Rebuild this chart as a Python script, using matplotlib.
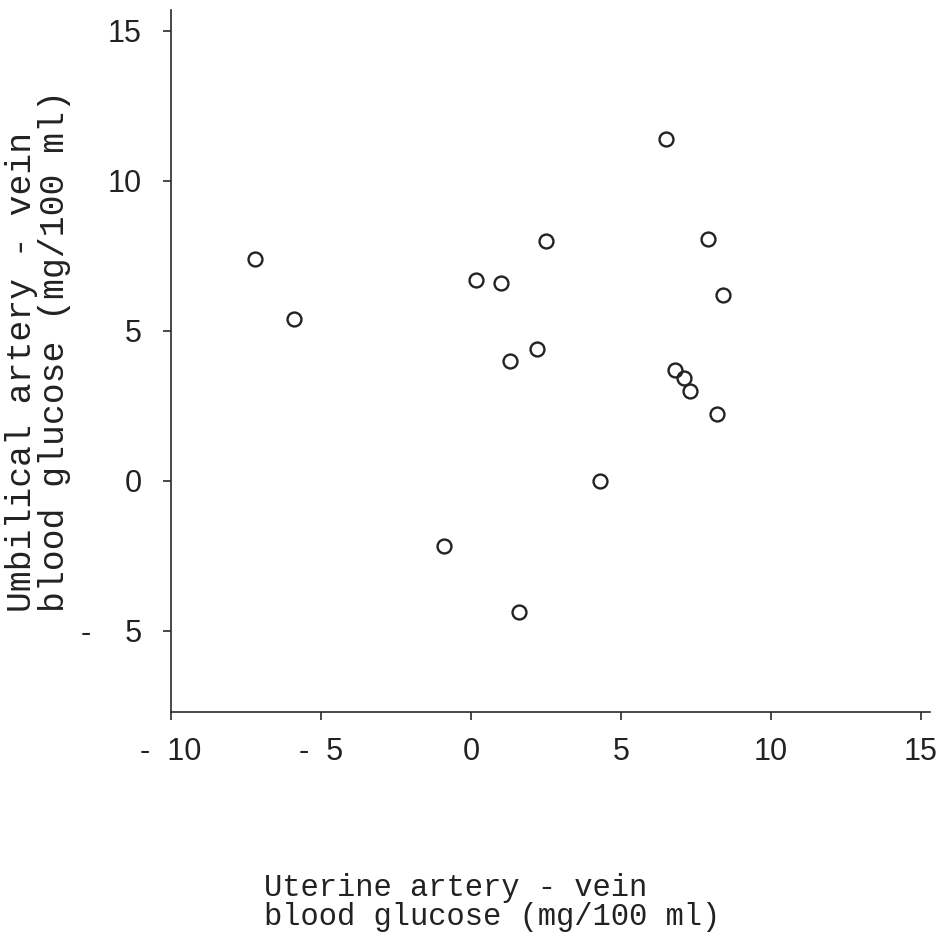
#%%
import matplotlib.pyplot as plt

# uterine (x) vs umbilical (y) artery - vein glucose difference, mg/100 ml
uterine_av=[-7.2,-5.9,0.15,1.0,2.5,2.2,1.3,6.5,7.9,8.4,6.8,7.1,7.3,8.2,4.3,-0.9,1.6]
umbilical_av=[7.4,5.4,6.7,6.6,8.0,4.4,4.0,11.4,8.05,6.2,3.7,3.45,3.0,2.25,0.0,-2.15,-4.35]

xticks=[-10,-5,0,5,10,15]
xticklabels=['-  10','-  5','0','5','10','15']
yticks=[-5,0,5,10,15]
yticklabels=['-    5','0','5','10','15']

#%%
mono='Liberation Mono'
num='Liberation Sans'
ink='#222222'

fig=plt.figure(figsize=(9.49,9.41),dpi=100)
ax=fig.add_axes([171/949,1-712/941,(930-171)/949,(712-10)/941])

ax.plot(uterine_av,umbilical_av,'o',ms=10,mfc='none',mec=ink,mew=1.7)

ax.set_xlim(-10,15.3)
ax.set_ylim(-7.7,15.7)
for s in ['top','right']:
    ax.spines[s].set_visible(False)
for s in ['left','bottom']:
    ax.spines[s].set_linewidth(1.2)
    ax.spines[s].set_color('#2a2a2a')

ax.set_xticks(xticks)
ax.set_xticklabels(xticklabels,fontfamily=num,fontsize=22,color=ink)
ax.set_yticks(yticks)
ax.set_yticklabels(yticklabels,fontfamily=num,fontsize=22,color=ink)
ax.tick_params(axis='both',direction='out',length=6,width=1.2,color='#2a2a2a')
ax.tick_params(axis='x',pad=12)
ax.tick_params(axis='y',pad=15)

# typed axis titles, two lines each
fig.text(22/949,1-612/941,'Umbilical artery - vein',rotation=90,
         fontfamily=mono,fontsize=25,color=ink,ha='center',va='bottom')
fig.text(55/949,1-612/941,'blood glucose (mg/100 ml)',rotation=90,
         fontfamily=mono,fontsize=25,color=ink,ha='center',va='bottom')
fig.text(264/949,1-888/941,'Uterine artery - vein',
         fontfamily=mono,fontsize=22,color=ink,ha='left',va='center')
fig.text(264/949,1-917/941,'blood glucose (mg/100 ml)',
         fontfamily=mono,fontsize=22,color=ink,ha='left',va='center')

fig.savefig('out.png',dpi=100,facecolor='white')
